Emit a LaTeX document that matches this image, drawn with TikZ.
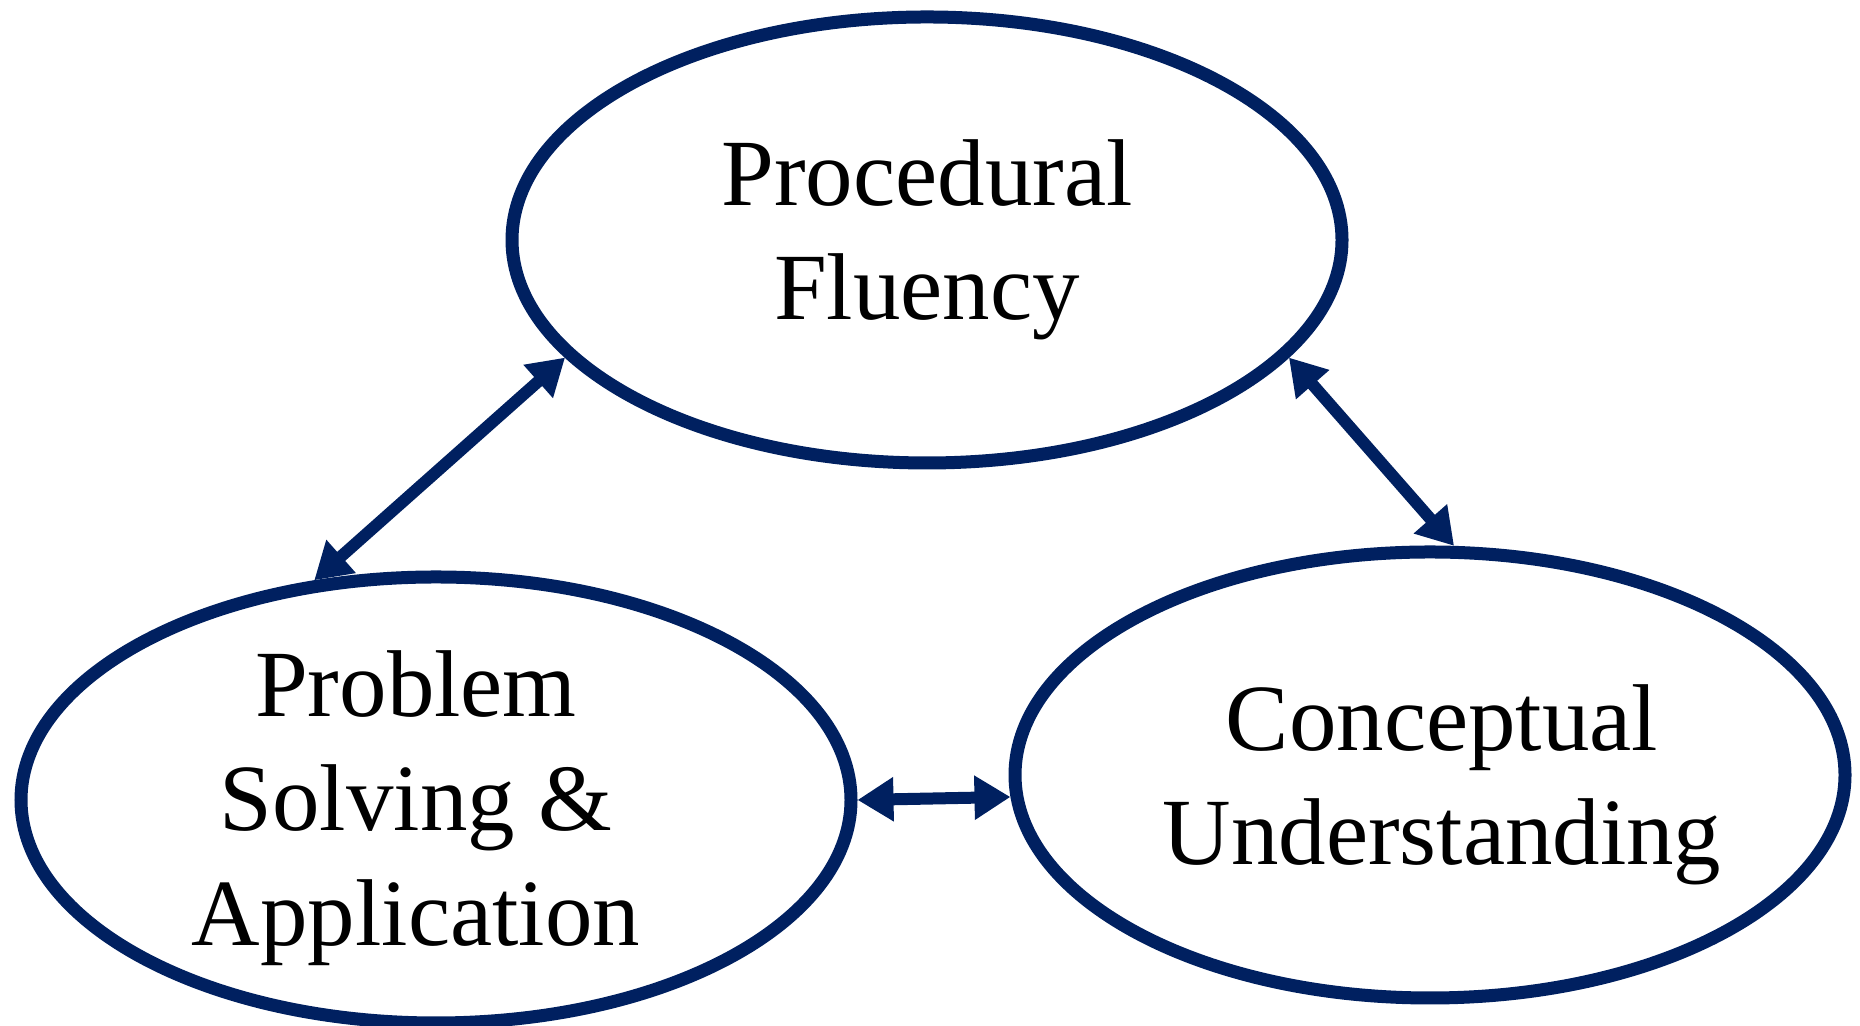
\documentclass[tikz,border=0pt]{standalone}
\usepackage{fontspec}
\setmainfont{Liberation Serif}
\usetikzlibrary{shapes.geometric, arrows.meta, positioning}

\definecolor{navy}{RGB}{0,32,96}

\begin{document}
\begin{tikzpicture}[]

\tikzstyle{bubble} = [
  ellipse,
  draw=navy,
  line width=0.13cm,
  minimum width=8.30cm,
  minimum height=4.46cm,
  inner sep=0pt]
\tikzstyle{caption} = [
  align=center,
  inner sep=0pt,
  font=\fontsize{27}{32.5}\selectfont]
\tikzstyle{link} = [
  {Triangle[length=0.36cm,width=0.42cm]}-{Triangle[length=0.36cm,width=0.42cm]},
  navy,
  line width=0.12cm]

\def\W{18.6}
\def\H{10.26}
\useasboundingbox (0,0) rectangle (\W,\H);

\node[bubble] (pf) at (9.27,7.86) {};
\node[bubble] (ps) at (4.36,2.26) {};
\node[bubble] (cu) at (14.30,2.51) {};

\node[caption] (pftext) at (pf.center) {Procedural\\Fluency};
\node[caption] (pstext) at ([xshift=-0.2cm,yshift=-0.08cm]ps.center) {Problem\\Solving \&\\Application};
\node[caption] (cutext) at ([xshift=0.12cm,yshift=-0.1cm]cu.center) {Conceptual\\Understanding};

\draw[link] (ps.119) -- (pf.198);
\draw[link] (pf.342) -- (cu.84.5);
\draw[link] (ps.0) -- (cu.183.5);

\end{tikzpicture}
\end{document}
